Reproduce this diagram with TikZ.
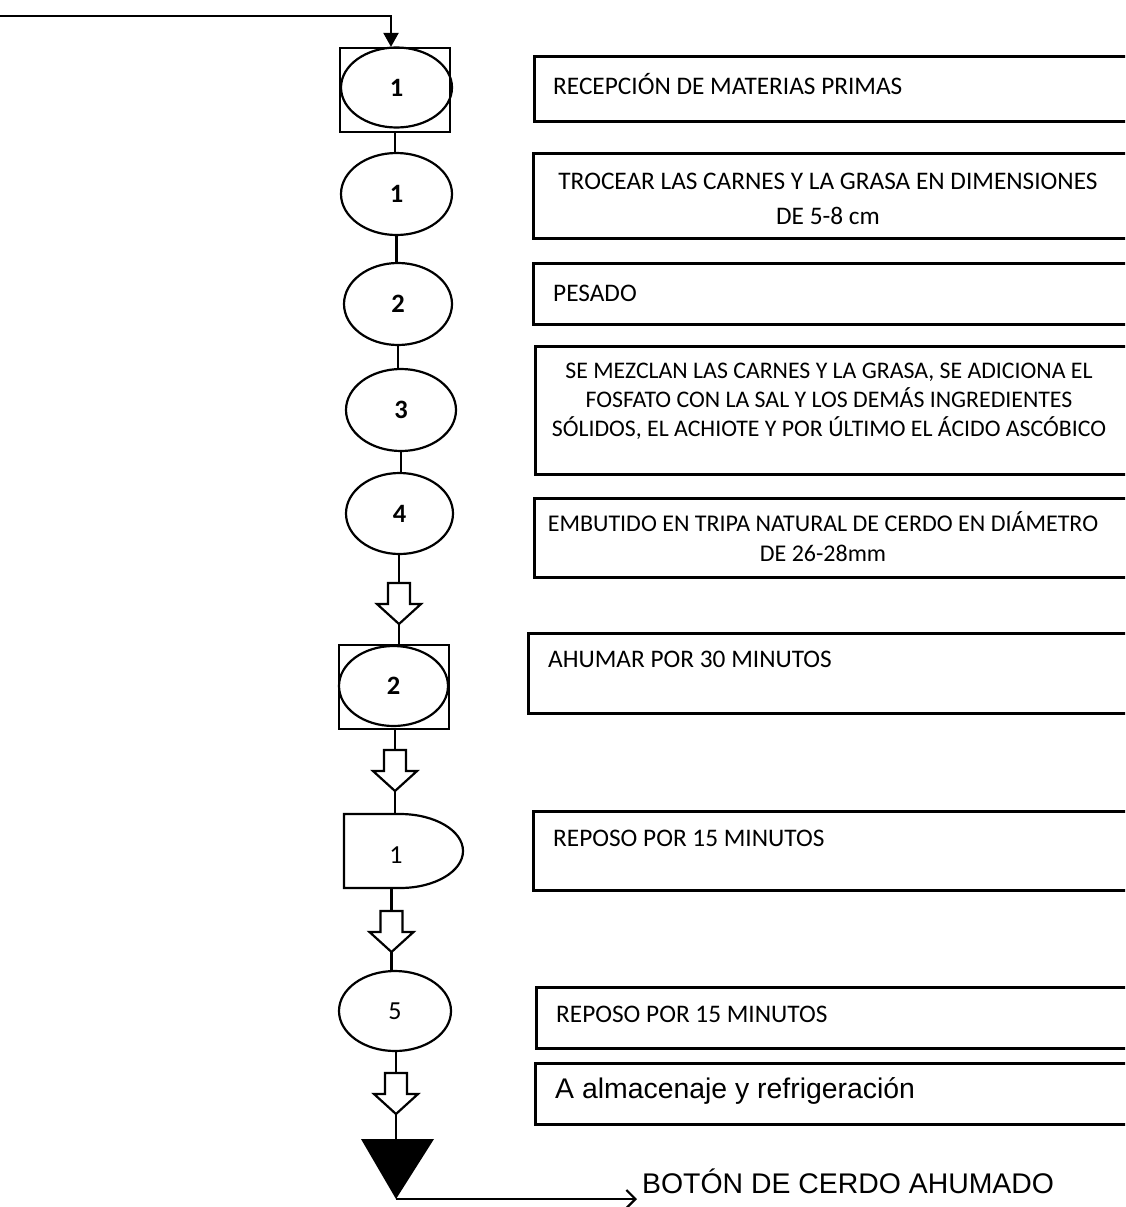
\documentclass[tikz,border=0pt]{standalone}
\usepackage{fontspec}
\setmainfont{Carlito}
\newfontfamily\arialf{Liberation Sans}
\usetikzlibrary{shapes.geometric,arrows.meta}
\tikzset{
  shp/.style={draw,line width=2.2pt},
  oval/.style={shp,ellipse,inner sep=0pt,font=\fontsize{26.5}{30}\selectfont\bfseries},
  ovalr/.style={shp,ellipse,inner sep=0pt,font=\fontsize{26}{30}\selectfont},
  sq/.style={shp,rectangle,inner sep=0pt},
  conn/.style={line width=2.2pt},
  boxn/.style={draw,line width=2.8pt,rectangle,inner sep=0pt,anchor=north west},
  txt/.style={inner sep=0pt,font=\fontsize{25.3}{30}\selectfont},
  arl/.style={inner sep=0pt,font=\arialf\fontsize{28.4}{33}\selectfont},
  hollow/.pic={
    \draw[line width=2.2pt,line join=miter,fill=white]
      (-11,0) -- (11,0) -- (11,21) -- (22,21) -- (0,41) -- (-22,21) -- (-11,21) -- cycle;
    \coordinate (-top) at (0,0);
    \coordinate (-tip) at (0,41);
  }
}
\begin{document}
\begin{tikzpicture}[x=1pt,y=-1pt]
\useasboundingbox (0,0) rectangle (1125,1207);
\clip (0,0) rectangle (1125,1207);

% ---- left column symbols ----
\node[sq,minimum width=110,minimum height=84] (s1) at (395,90) {};
\node[oval,minimum width=111,minimum height=80] (e0) at (396.5,87.5) {1};
\node[oval,minimum width=111,minimum height=82] (e1) at (396.5,194) {1};
\node[oval,minimum width=108,minimum height=82] (e2) at (398,304) {2};
\node[oval,minimum width=110,minimum height=82] (e3) at (401,410) {3};
\node[oval,minimum width=107,minimum height=81] (e4) at (399.5,513.5) {4};
\pic (h1) at (399,583) {hollow};
\node[sq,minimum width=110,minimum height=84] (s2) at (394,687) {};
\node[oval,minimum width=109,minimum height=80] (e5) at (393.5,686) {2};
\pic (h2) at (395,750) {hollow};
% delay symbol
\coordinate (d1top) at (396,814);
\coordinate (d1bot) at (396,888);
\draw[shp] (344,814) -- (400,814) arc[start angle=-90,end angle=90,x radius=63,y radius=37] -- (344,888) -- cycle;
\node[txt,font=\fontsize{26}{30}\selectfont] (d1) at (396,855) {1};
\pic (h3) at (391.5,911) {hollow};
\node[ovalr,minimum width=112,minimum height=80] (e6) at (395,1011) {5};
\pic (h4) at (396,1073) {hollow};
% storage triangle
\coordinate (tri) at (397,1139);
\coordinate (tritip) at (396,1199);
\fill (361,1139) -- (434,1139) -- (tritip) -- cycle;
\coordinate (outend) at (637,1199);

% ---- connectors ----
\coordinate (start) at (0,16);
\coordinate (bend) at (391,16);
\draw[conn,-{Triangle[length=14pt,width=15pt]}] (start) -- (bend) -- (bend |- s1.north);
\draw[conn] (s1.south) -- (s1.south |- e1.north);
\draw[conn] (e1.south) -- (e1.south |- e2.north);
\draw[conn] (e2.south) -- (e2.south |- e3.north);
\draw[conn] (e3.south) -- (e3.south |- e4.north);
\draw[conn] (h1-top |- e4.south) -- (h1-top);
\draw[conn] (h1-tip) -- (h1-tip |- s2.north);
\draw[conn] (h2-top |- s2.south) -- (h2-top);
\draw[conn] (h2-tip) -- (h2-tip |- d1top);
\draw[conn] (h3-top |- d1bot) -- (h3-top);
\draw[conn] (h3-tip) -- (h3-tip |- e6.north);
\draw[conn] (h4-top |- e6.south) -- (h4-top);
\draw[conn] (h4-tip) -- (h4-tip |- tri);
\draw[conn,-{Straight Barb[length=9pt,width=18pt]}] (tritip) -- (outend);

% ---- description boxes ----
\node[boxn,minimum width=597,minimum height=65] (b1) at (533,55) {};
\node[boxn,minimum width=598,minimum height=85] (b2) at (532,152) {};
\node[boxn,minimum width=598,minimum height=61] (b3) at (532,262) {};
\node[boxn,minimum width=596,minimum height=128] (b4) at (534,345) {};
\node[boxn,minimum width=597,minimum height=79] (b5) at (533,497) {};
\node[boxn,minimum width=603,minimum height=80] (b6) at (527,632) {};
\node[boxn,minimum width=598,minimum height=79] (b7) at (532,810) {};
\node[boxn,minimum width=595,minimum height=61] (b8) at (535,986) {};
\node[boxn,minimum width=596,minimum height=61] (b9) at (534,1062) {};

\node[txt,anchor=west] (t1) at (553,84) {RECEPCIÓN DE MATERIAS PRIMAS};
\node[txt,align=center,font=\fontsize{25.3}{35}\selectfont] (t2) at (828,199) {TROCEAR LAS CARNES Y LA GRASA EN DIMENSIONES\\DE 5-8 cm};
\node[txt,anchor=west] (t3) at (553,293) {PESADO};
\node[txt,align=center,font=\fontsize{23.8}{29}\selectfont] (t4) at (829,401) {SE MEZCLAN LAS CARNES Y LA GRASA, SE ADICIONA EL\\FOSFATO CON LA SAL Y LOS DEMÁS INGREDIENTES\\SÓLIDOS, EL ACHIOTE Y POR ÚLTIMO EL ÁCIDO ASCÓBICO};
\node[txt,align=center,font=\fontsize{24}{30}\selectfont] (t5) at (823,537) {EMBUTIDO EN TRIPA NATURAL DE CERDO EN DIÁMETRO\\DE 26-28mm};
\node[txt,anchor=west] (t6) at (548,659) {AHUMAR POR 30 MINUTOS};
\node[txt,anchor=west] (t7) at (553,838) {REPOSO POR 15 MINUTOS};
\node[txt,anchor=west] (t8) at (556,1014) {REPOSO POR 15 MINUTOS};
\node[arl,anchor=west] (t9) at (555,1091) {A almacenaje y refrigeración};
\node[arl,anchor=west] (t10) at (642,1181) {BOTÓN DE CERDO AHUMADO};
\end{tikzpicture}
\end{document}
